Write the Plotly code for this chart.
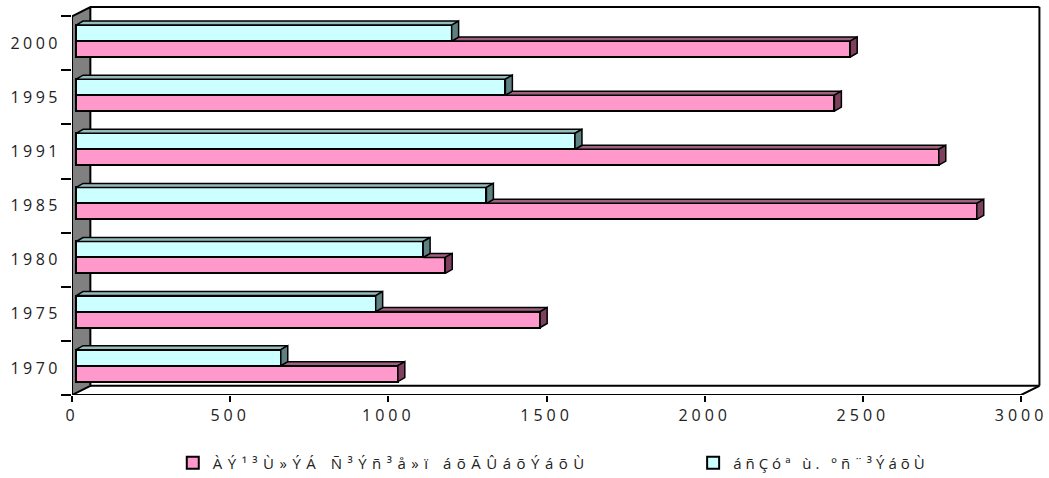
import plotly.graph_objects as go

# ---- data ----
years = ["1970", "1975", "1980", "1985", "1991", "1995", "2000"]
total_values = [1030, 1480, 1180, 2860, 2740, 2410, 2460]
yerevan_values = [660, 960, 1110, 1310, 1590, 1370, 1200]
series_names = ["ÀÝ¹³Ù»ÝÁ Ñ³Ýñ³å»ï áõÃÛáõÝáõÙ", "áñÇóª ù. ºñ¨³ÝáõÙ"]
x_ticks = [0, 500, 1000, 1500, 2000, 2500, 3000]

# ---- style ----
PINK, PINK_TOP, PINK_SIDE = "#FF99CC", "#A0607F", "#7F4060"
CYAN, CYAN_TOP, CYAN_SIDE = "#CCFFFF", "#94BDBD", "#5F8080"
FONT = "Open Sans"

BASE = 13          # bar front face start (3D offset)
BW = 0.295         # bar thickness (category units)
OFF_PINK, OFF_CYAN = -0.105, 0.19
DX, DY = 22, 0.074        # bar depth
WDX, WDY = 58, 0.17       # wall depth
XMAX = 3000
YLO, YHI = -0.5, len(years) - 0.5

def sp(s, ls):
    return f'<span style="letter-spacing:{ls}px">{s}</span>'

fig = go.Figure()
pos = list(range(len(years)))

# front faces
for k, (name, vals, off, col, ls) in enumerate(
        [(series_names[0], total_values, OFF_PINK, PINK, 5.5),
         (series_names[1], yerevan_values, OFF_CYAN, CYAN, 4.0)]):
    fig.add_trace(go.Bar(
        orientation="h", y=[p + off for p in pos], x=[v - BASE for v in vals],
        base=BASE, width=BW, name=sp(name, ls),
        legend="legend" if k == 0 else "legend2",
        marker=dict(color=col, line=dict(color="black", width=2))))

def faces(vals, off, start_vals=None):
    tx, ty, sx, sy = [], [], [], []
    for i, v in enumerate(vals):
        b = pos[i] + off - BW / 2
        t = pos[i] + off + BW / 2
        s = BASE if start_vals is None else start_vals[i]
        tx += [s, s + DX, v + DX, v, s, None]
        ty += [t, t + DY, t + DY, t, t, None]
        sx += [v, v + DX, v + DX, v, v, None]
        sy += [b, b + DY, t + DY, t, b, None]
    return tx, ty, sx, sy

ptx, pty, psx, psy = faces(total_values, OFF_PINK, start_vals=yerevan_values)
ctx, cty, csx, csy = faces(yerevan_values, OFF_CYAN)
for xs, ys, col in [(ptx, pty, PINK_TOP), (psx, psy, PINK_SIDE),
                    (ctx, cty, CYAN_TOP), (csx, csy, CYAN_SIDE)]:
    fig.add_trace(go.Scatter(x=xs, y=ys, mode="lines", fill="toself",
                             fillcolor=col, line=dict(color="black", width=1.5),
                             showlegend=False, hoverinfo="skip"))

# walls / frame
shapes = [
    dict(type="path", layer="below",
         path=f"M 0 {YLO} L 0 {YHI} L {WDX} {YHI+WDY} L {WDX} {YLO+WDY} Z",
         fillcolor="#808080", line=dict(color="black", width=2)),
    dict(type="line", x0=WDX, x1=XMAX + WDX, y0=YHI + WDY, y1=YHI + WDY,
         line=dict(color="black", width=2)),
    dict(type="line", x0=XMAX + WDX, x1=XMAX + WDX, y0=YLO + WDY, y1=YHI + WDY,
         line=dict(color="black", width=2)),
    dict(type="line", x0=WDX, x1=XMAX + WDX, y0=YLO + WDY, y1=YLO + WDY,
         line=dict(color="black", width=2), layer="below"),
    dict(type="line", x0=XMAX, x1=XMAX + WDX, y0=YLO, y1=YLO + WDY,
         line=dict(color="black", width=2)),
    dict(type="line", x0=0, x1=XMAX, y0=YLO, y1=YLO,
         line=dict(color="black", width=2)),
]

leg_common = dict(orientation="h", yref="container", y=1 - 463 / 478,
                  xanchor="left", yanchor="middle",
                  font=dict(family=FONT, size=15, color="#222222"),
                  bgcolor="rgba(0,0,0,0)")

fig.update_layout(
    width=1049, height=478,
    margin=dict(l=72, r=8, t=6, b=83, autoexpand=False),
    paper_bgcolor="white", plot_bgcolor="white",
    barmode="overlay", bargap=0,
    shapes=shapes,
    font=dict(family=FONT, size=16, color="#222222"),
    xaxis=dict(range=[0, XMAX + WDX + 5], tickvals=x_ticks,
               ticktext=[sp(str(t), 4) for t in x_ticks],
               ticks="outside", ticklen=6, tickwidth=2, tickcolor="black",
               showgrid=False, zeroline=False, showline=False,
               automargin=False, ticklabelstandoff=0,
               tickfont=dict(family=FONT, size=16, color="#222222")),
    yaxis=dict(range=[YLO, YHI + WDY + 0.02], tickvals=pos,
               ticktext=[sp(y, 3.5) for y in years], ticks="",
               showgrid=False, zeroline=False, showline=False,
               automargin=False, ticklabelstandoff=10,
               minor=dict(tickvals=[p - 0.5 for p in pos] + [YHI],
                          ticks="outside", ticklen=10, tickwidth=2,
                          tickcolor="black", showgrid=False),
               tickfont=dict(family=FONT, size=16, color="#222222")),
    legend=dict(x=0.104, **leg_common),
    legend2=dict(x=0.641, **leg_common),
)

fig.write_html("out.html", config={"displayModeBar": False},
               post_script="document.body.style.margin='0';")
